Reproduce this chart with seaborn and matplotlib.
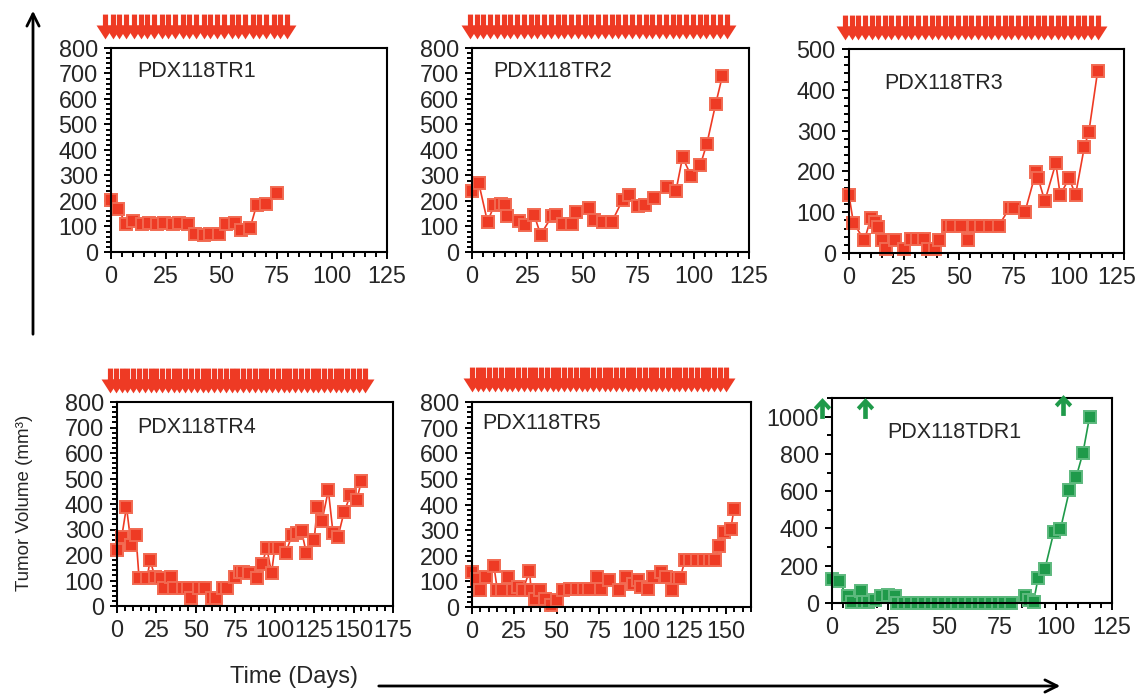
import matplotlib
matplotlib.use("Agg")
import matplotlib.pyplot as plt
import matplotlib.patches as mpatches
import matplotlib.transforms as mtransforms
from matplotlib.path import Path
from matplotlib.ticker import MultipleLocator
import seaborn as sns

sns.set_theme(style="ticks")
plt.rcParams["font.family"] = ["Liberation Sans", "DejaVu Sans"]

W, H = 1138, 694
RED = "#EE3A24"
RED_EDGE = "#F26A52"
GREEN = "#1F9A4A"
GREEN_EDGE = "#5DB97E"

# ---- tumor volume series (days, mm^3) ----
tr1_days = [0, 3, 7, 10, 14, 17, 21, 24, 28, 31, 35, 38, 42, 45, 49, 52, 56, 59, 63, 66, 70, 75]
tr1_vol = [205, 170, 110, 120, 110, 115, 110, 115, 110, 115, 110, 70, 68, 70, 70, 110, 112, 85, 95, 185, 190, 230]

tr2_days = [0, 3, 7, 10, 13, 15, 16, 21, 24, 28, 31, 36, 38, 41, 45, 47, 53, 55, 59, 63, 68, 71,
            75, 78, 82, 88, 92, 95, 99, 103, 106, 110, 113]
tr2_vol = [238, 272, 118, 183, 190, 183, 142, 120, 107, 146, 68, 140, 146, 111, 111, 155, 172, 127,
           116, 116, 205, 225, 179, 185, 212, 255, 238, 371, 297, 340, 425, 582, 691]

tr3_days = [0, 2, 7, 10, 12, 13, 15, 17, 21, 25, 28, 31, 34, 36, 39, 41, 45, 47, 51, 54, 57, 60,
            64, 68, 73, 75, 80, 85, 86, 89, 94, 96, 100, 103, 107, 109, 113]
tr3_vol = [142, 74, 31, 87, 76, 64, 31, 11, 31, 11, 35, 35, 35, 11, 11, 31, 66, 66, 66, 31, 66, 66,
           66, 66, 111, 111, 101, 199, 183, 127, 220, 142, 183, 143, 261, 296, 445]

tr4_days = [0, 3, 6, 9, 12, 14, 19, 21, 24, 28, 30, 34, 36, 42, 45, 47, 52, 56, 60, 63, 67, 70,
            75, 78, 80, 84, 89, 92, 95, 98, 100, 103, 107, 111, 114, 117, 120, 125, 127, 130,
            134, 137, 140, 144, 148, 152, 155]
tr4_vol = [219, 271, 389, 239, 278, 108, 108, 180, 115, 110, 69, 115, 69, 69, 69, 30, 69, 72, 30,
           30, 69, 69, 115, 134, 134, 128, 108, 164, 228, 128, 228, 228, 209, 278, 285, 295, 209,
           258, 389, 334, 454, 285, 269, 369, 435, 415, 491]

tr5_days = [0, 3, 5, 8, 13, 15, 18, 21, 24, 27, 30, 34, 35, 37, 40, 43, 47, 50, 54, 58, 62, 66,
            69, 74, 76, 81, 87, 91, 95, 98, 100, 104, 107, 112, 115, 118, 121, 123, 126, 129,
            133, 137, 141, 144, 146, 149, 153, 155]
tr5_vol = [137, 110, 65, 117, 159, 65, 65, 117, 68, 78, 65, 140, 65, 32, 65, 30, 6, 26, 65, 70,
           70, 70, 70, 117, 70, 104, 65, 117, 91, 104, 78, 70, 117, 136, 117, 65, 112, 112, 182,
           182, 182, 182, 185, 182, 240, 292, 305, 383]

tdr1_days = [0, 3, 7, 9, 13, 14, 16, 19, 22, 25, 28, 29, 32, 35, 38, 41, 44, 47, 50, 53, 56, 59,
             62, 65, 68, 71, 74, 77, 80, 86, 88, 90, 92, 95, 99, 102, 106, 109, 112, 115]
tdr1_vol = [128, 116, 36, 8, 62, 8, 8, 18, 36, 44, 36, 2, 2, 2, 2, 2, 2, 2, 2, 2, 2, 2, 2, 2, 2,
            2, 2, 2, 2, 36, 18, 8, 133, 181, 379, 397, 605, 676, 804, 1000]

# ---- dosing marks (days) ----
tr1_doses = [-2.5, 0.7, 3.8, 7.0, 10.2, 13.4, 16.5, 19.7, 22.9, 26.0, 29.2, 32.4, 35.5, 38.7,
             41.9, 45.0, 48.2, 51.4, 54.6, 57.7, 60.9, 64.1, 67.2, 70.4, 73.6, 76.7, 79.9]
tr2_doses = [-1.0, 2.1, 5.1, 8.2, 11.2, 14.3, 17.3, 20.4, 23.4, 26.5, 29.5, 32.6, 35.6, 38.7,
             41.7, 44.8, 47.8, 50.9, 53.9, 57.0, 60.0, 63.1, 66.1, 69.2, 72.2, 75.3, 78.3, 81.4,
             84.4, 87.5, 90.5, 93.6, 96.6, 99.7, 102.7, 105.8, 108.8, 111.9, 114.9]
tr3_doses = [-1.8, 1.2, 4.2, 7.3, 10.3, 13.3, 16.3, 19.3, 22.4, 25.4, 28.4, 31.4, 34.5, 37.5,
             40.5, 43.5, 46.5, 49.6, 52.6, 55.6, 58.6, 61.6, 64.7, 67.7, 70.7, 73.7, 76.7, 79.8,
             82.8, 85.8, 88.8, 91.9, 94.9, 97.9, 100.9, 103.9, 107.0, 110.0, 113.0]
tr4_doses = [-4.4, -0.7, 2.9, 6.6, 10.3, 14.0, 17.6, 21.3, 25.0, 28.6, 32.3, 36.0, 39.6, 43.3,
             47.0, 50.6, 54.3, 58.0, 61.6, 65.3, 69.0, 72.6, 76.3, 80.0, 83.6, 87.3, 91.0, 94.6,
             98.3, 102.0, 105.6, 109.3, 113.0, 116.6, 120.3, 124.0, 127.6, 131.3, 135.0, 138.6,
             142.3, 146.0, 149.7, 153.3, 157.0]
tr5_doses = [0.0, 3.4, 6.8, 10.2, 13.6, 17.0, 20.5, 23.9, 27.3, 30.7, 34.1, 37.5, 40.9, 44.3,
             47.7, 51.1, 54.5, 58.0, 61.4, 64.8, 68.2, 71.6, 75.0, 78.4, 81.8, 85.2, 88.6, 92.0,
             95.5, 98.9, 102.3, 105.7, 109.1, 112.5, 115.9, 119.3, 122.7, 126.1, 129.5, 133.0,
             136.4, 139.8, 143.2, 146.6, 150.0]
tdr1_doses = [-4.5, 14.7, 103]
tdr1_dose_level = [1045, 1045, 1060]

# filled down-arrow: wide head, short thick stem (units ~ pixels, origin at head base)
DOWN_ARROW = Path(
    [(-2.6, 11), (2.6, 11), (2.6, 0), (9, 0), (0, -14), (-9, 0), (-2.6, 0), (-2.6, 11)],
    [Path.MOVETO] + [Path.LINETO] * 6 + [Path.CLOSEPOLY],
)
# thick chevron with stem pointing up
UP_ARROW = Path(
    [(0, 9), (7.5, 1.0), (5.0, -1.6), (2.0, 1.8), (2.0, -9), (-2.0, -9), (-2.0, 1.8),
     (-5.0, -1.6), (-7.5, 1.0), (0, 9)],
    [Path.MOVETO] + [Path.LINETO] * 8 + [Path.CLOSEPOLY],
)


def px_box(x0, y0, x1, y1):
    return [x0 / W, 1 - y1 / H, (x1 - x0) / W, (y1 - y0) / H]


panels = [
    ("PDX118TR1", tr1_days, tr1_vol, tr1_doses, px_box(111, 48, 387, 252), 125, 800, 100, 20, (0.095, 0.883)),
    ("PDX118TR2", tr2_days, tr2_vol, tr2_doses, px_box(472, 48, 749, 252), 125, 800, 100, 20, (0.076, 0.883)),
    ("PDX118TR3", tr3_days, tr3_vol, tr3_doses, px_box(849, 49, 1124, 253), 125, 500, 100, 20, (0.13, 0.833)),
    ("PDX118TR4", tr4_days, tr4_vol, tr4_doses, px_box(117, 402, 393, 606), 175, 800, 100, 20, (0.072, 0.873)),
    ("PDX118TR5", tr5_days, tr5_vol, tr5_doses, px_box(472, 402, 751, 607), 165, 800, 100, 20, (0.036, 0.897)),
    ("PDX118TDR1", tdr1_days, tdr1_vol, None, px_box(832, 398, 1112, 603), 125, 1100, 200, 100, (0.196, 0.83)),
]

fig = plt.figure(figsize=(W / 100, H / 100), dpi=100)
axes = []

for name, days, vol, doses, box, xmax, ymax, ymaj, ymin, tpos in panels:
    ax = fig.add_axes(box)
    axes.append(ax)
    color, edge = (GREEN, GREEN_EDGE) if doses is None else (RED, RED_EDGE)
    sns.lineplot(x=days, y=vol, ax=ax, color=color, estimator=None, sort=False,
                 marker="s", markersize=9, markerfacecolor=color, markeredgecolor=edge,
                 markeredgewidth=1.4, linewidth=1.2, legend=False, clip_on=False)
    ax.set(xlabel="", ylabel="")
    ax.set_xlim(0, xmax)
    ax.set_ylim(0, ymax)
    ax.xaxis.set_major_locator(MultipleLocator(25))
    ax.xaxis.set_minor_locator(MultipleLocator(5))
    ax.yaxis.set_major_locator(MultipleLocator(ymaj))
    ax.yaxis.set_minor_locator(MultipleLocator(ymin))
    for s in ax.spines.values():
        s.set_visible(True)
        s.set_linewidth(1.5)
        s.set_color("black")
    ax.tick_params(which="both", direction="out", top=False, right=False,
                   width=1.4, color="black", labelsize=16.8, pad=4.5)
    ax.tick_params(which="major", length=5)
    ax.tick_params(which="minor", length=3.5)
    ax.text(tpos[0], tpos[1], name, transform=ax.transAxes, fontsize=15.5,
            ha="left", va="center")

    if doses is not None:
        ax.plot(doses, [1.115] * len(doses), ls="none", marker=DOWN_ARROW, ms=20,
                color=RED, mew=0, transform=ax.get_xaxis_transform(), clip_on=False)
    else:
        ax.plot(tdr1_doses, tdr1_dose_level, ls="none", marker=UP_ARROW, ms=15,
                color=GREEN, mew=0, clip_on=False, zorder=5)

# nudge the "125" label of the top-right panel left so it stays inside the figure
fig.canvas.draw()
shift = mtransforms.ScaledTranslation(-7 / 100, 0, fig.dpi_scale_trans)
for lab in axes[2].get_xticklabels():
    if lab.get_text() == "125":
        lab.set_transform(lab.get_transform() + shift)

# axis titles with arrows
fig.text(25 / W, 1 - 503 / H, "Tumor Volume (mm³)", rotation=90, fontsize=13.5,
         ha="center", va="center")
fig.add_artist(mpatches.FancyArrowPatch((33 / W, 1 - 337 / H), (33 / W, 1 - 8 / H),
                                        transform=fig.transFigure, arrowstyle="->",
                                        mutation_scale=22, lw=2, color="black"))
fig.text(294 / W, 1 - 677 / H, "Time (Days)", fontsize=17, ha="center", va="center")
fig.add_artist(mpatches.FancyArrowPatch((376 / W, 1 - 686 / H), (1063 / W, 1 - 686 / H),
                                        transform=fig.transFigure, arrowstyle="->",
                                        mutation_scale=22, lw=2, color="black"))

fig.savefig("out.png", dpi=100)
